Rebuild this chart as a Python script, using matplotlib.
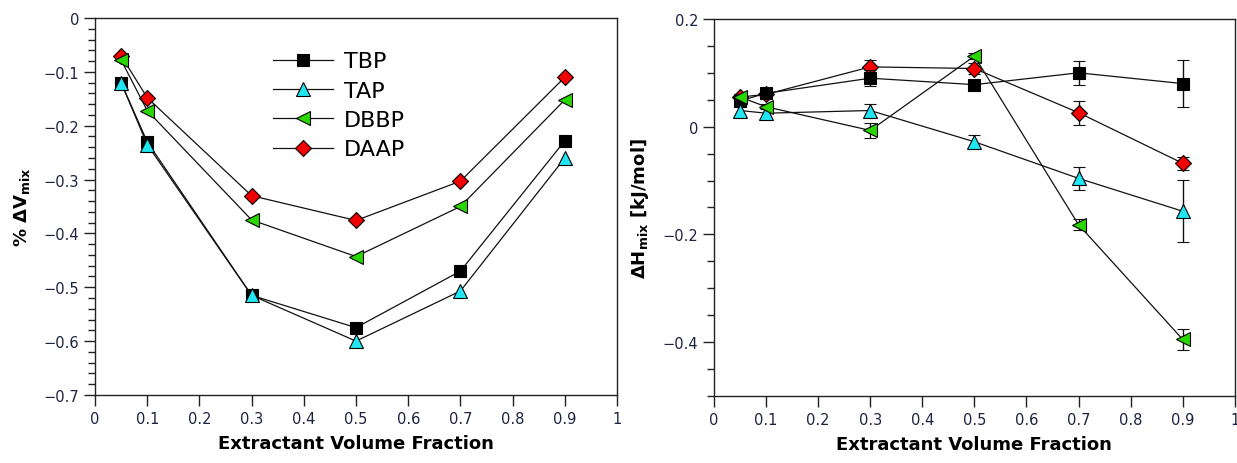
import matplotlib
matplotlib.use("Agg")
import matplotlib.pyplot as plt
from matplotlib.ticker import MultipleLocator

plt.rcParams['font.family'] = ['DejaVu Sans']
plt.rcParams['axes.unicode_minus'] = True

x = [0.05, 0.1, 0.3, 0.5, 0.7, 0.9]
names = ["TBP", "TAP", "DBBP", "DAAP"]

# excess volume of mixing, %
dv_tbp = [-0.120, -0.230, -0.515, -0.575, -0.470, -0.228]
dv_tap = [-0.120, -0.235, -0.515, -0.600, -0.507, -0.260]
dv_dbbp = [-0.078, -0.172, -0.375, -0.443, -0.350, -0.152]
dv_daap = [-0.070, -0.148, -0.330, -0.376, -0.303, -0.110]

# enthalpy of mixing, kJ/mol, with uncertainties
dh_tbp = [0.048, 0.062, 0.090, 0.078, 0.100, 0.080]
dh_tap = [0.030, 0.025, 0.030, -0.028, -0.096, -0.157]
dh_dbbp = [0.055, 0.037, -0.007, 0.131, -0.182, -0.395]
dh_daap = [0.055, 0.060, 0.111, 0.108, 0.026, -0.068]
err_tbp = [0.006, 0.006, 0.015, 0.008, 0.022, 0.043]
err_tap = [0.010, 0.010, 0.012, 0.012, 0.022, 0.058]
err_dbbp = [0.005, 0.005, 0.014, 0.006, 0.010, 0.020]
err_daap = [0.006, 0.006, 0.012, 0.010, 0.022, 0.012]

styles = [
    dict(marker="s", mfc="#000000", ms=8.8, zorder=3),
    dict(marker="^", mfc="#22e5f2", ms=10.5, zorder=4),
    dict(marker="<", mfc="#2bd600", ms=10.5, zorder=5),
    dict(marker="D", mfc="#f00000", ms=8.3, zorder=2.5),
]

tick_color = "#1c2340"

fig = plt.figure(figsize=(12.37, 4.64), dpi=100)
ax1 = fig.add_axes([0.0768, 0.1466, 0.4220, 0.8125])
ax2 = fig.add_axes([0.5772, 0.1445, 0.4210, 0.8125])


def fmt(v, p):
    if abs(v) < 1e-9:
        return "0"
    if abs(v - 1) < 1e-9:
        return "1"
    return f"{v:.1f}".replace("-", "\u2212")


def style_axes(ax):
    for s in ax.spines.values():
        s.set_linewidth(1.0)
        s.set_color("#222222")
    ax.tick_params(which="both", direction="out", top=False, right=False,
                   colors="#222222", labelcolor=tick_color, labelsize=10.5,
                   width=1.0)
    ax.tick_params(which="major", length=8)
    ax.tick_params(which="minor", length=5)
    ax.set_xlim(0, 1)
    ax.xaxis.set_major_locator(MultipleLocator(0.1))
    ax.xaxis.set_major_formatter(plt.FuncFormatter(fmt))
    ax.yaxis.set_major_formatter(plt.FuncFormatter(fmt))
    ax.set_xlabel("Extractant Volume Fraction", fontsize=13, fontweight="bold",
                  labelpad=6)


# volume panel
dv_sets = [dv_tbp, dv_tap, dv_dbbp, dv_daap]
for name, y, st in zip(names, dv_sets, styles):
    ax1.plot(x, y, color="#111111", lw=0.9, mec="#000000", mew=0.8,
             label=name, **st)
style_axes(ax1)
ax1.set_ylim(-0.7, 0)
ax1.yaxis.set_major_locator(MultipleLocator(0.1))
ax1.yaxis.set_minor_locator(MultipleLocator(0.02))
ax1.set_ylabel(r"% $\mathbf{\Delta V_{mix}}$", fontsize=13, fontweight="bold",
               labelpad=8)
ax1.legend(loc="upper left", bbox_to_anchor=(0.324, 0.935), frameon=False,
           fontsize=16, handlelength=2.7, handletextpad=0.5,
           labelspacing=0.42, borderaxespad=0)

# enthalpy panel
dh_sets = [dh_tbp, dh_tap, dh_dbbp, dh_daap]
err_sets = [err_tbp, err_tap, err_dbbp, err_daap]
for name, y, e, st in zip(names, dh_sets, err_sets, styles):
    ax2.errorbar(x, y, yerr=e, color="#111111", lw=0.9, mec="#000000",
                 mew=0.8, ecolor="#111111", elinewidth=1.0, capsize=4,
                 capthick=1.0, label=name, **st)
style_axes(ax2)
ax2.set_ylim(-0.5, 0.2)
ax2.yaxis.set_major_locator(MultipleLocator(0.2))
ax2.yaxis.set_minor_locator(MultipleLocator(0.05))
ax2.set_ylabel(r"$\mathbf{\Delta H_{mix}}$ [kJ/mol]", fontsize=13,
               fontweight="bold", labelpad=8)

fig.savefig("out.png", dpi=100)
